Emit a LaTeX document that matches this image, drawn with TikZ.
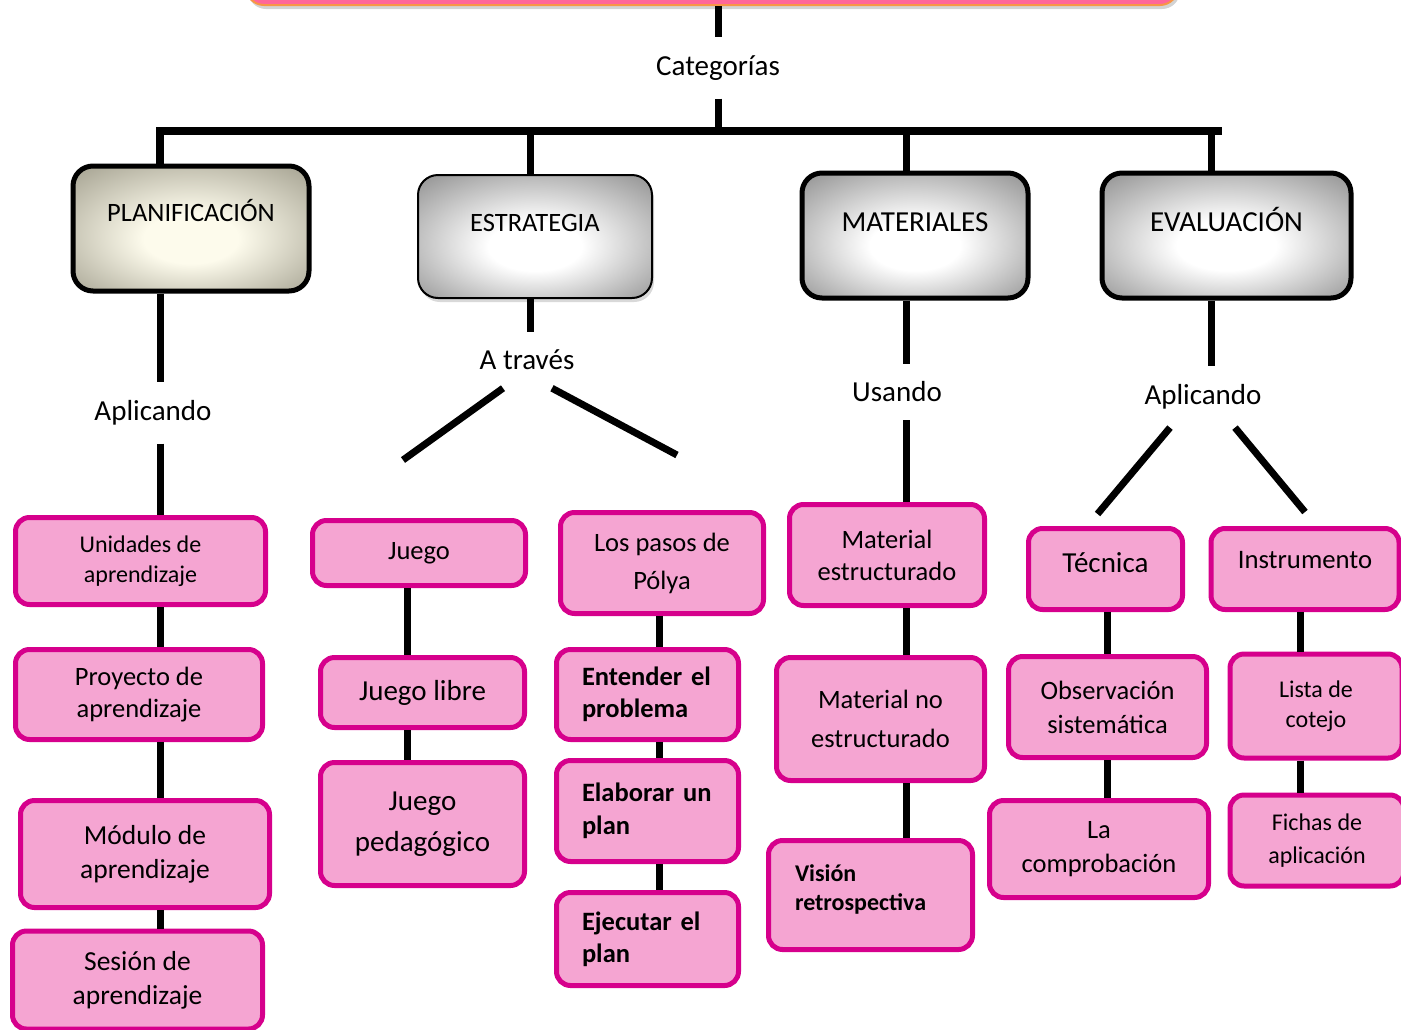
\documentclass[tikz,border=0pt]{standalone}
\usepackage{fontspec}
\setmainfont{Carlito}
\usetikzlibrary{shadows,positioning,calc}

\definecolor{rosa}{RGB}{245,165,210}
\definecolor{magentaborde}{RGB}{214,0,140}
\definecolor{fucsia}{RGB}{255,102,153}
\definecolor{naranja}{RGB}{247,150,70}
\definecolor{crema}{RGB}{253,251,236}
\definecolor{oliva}{RGB}{158,155,138}
\definecolor{grisborde}{RGB}{138,138,138}

\pgfdeclareradialshading{brillogris}{\pgfpoint{0bp}{-5bp}}{color(0bp)=(white); color(10bp)=(white); color(38bp)=(grisborde); color(50bp)=(grisborde)}
\pgfdeclareradialshading{brillocrema}{\pgfpoint{0bp}{-5bp}}{color(0bp)=(crema); color(10bp)=(crema); color(38bp)=(oliva); color(50bp)=(oliva)}

\newcommand{\tam}[2]{\fontsize{#1}{#2}\selectfont}

\begin{document}
\begin{tikzpicture}[x=1pt,y=-1pt,
   conector/.style={line width=7pt},
   cajatit/.style={draw=black,line width=5pt,rounded corners=20pt,shade,shading=brillogris,inner sep=0pt},
   cajarosa/.style={draw=magentaborde,fill=rosa,line width=5pt,rounded corners=14pt,align=center,inner sep=0pt},
   etiqueta/.style={inner sep=18pt,font=\tam{29}{34}}]

   \useasboundingbox (0,0) rectangle (1401,1029);

   % titulo y categorias
   \node[draw=naranja,line width=2pt,fill=fucsia,rounded corners=18pt,minimum width=932pt,minimum height=60pt,
         drop shadow={opacity=0.35,shadow xshift=2pt,shadow yshift=-4pt}] (titulo) at (712,-25) {};
   \node[etiqueta] (categ) at (718,68) {Categorías};

   \coordinate (barL) at (160,131);
   \coordinate (barR) at (1222,131);
   \coordinate (ejeP) at (160,0);
   \coordinate (ejeE) at (530,0);
   \coordinate (ejeJ) at (407,0);
   \coordinate (ejeY) at (659,0);
   \coordinate (ejeM) at (906,0);
   \coordinate (ejeV) at (1211,0);
   \coordinate (ejeT) at (1107,0);
   \coordinate (ejeI) at (1300,0);

   % categorias
   \node[cajatit,shading=brillocrema,minimum width=236pt,minimum height=125pt,font=\tam{26.5}{30},text height=17pt,text depth=31pt] (plan) at (191,228.5) {PLANIFICACIÓN};
   \node[cajatit,line width=2pt,minimum width=234pt,minimum height=123pt,font=\tam{26.5}{30},text height=17pt,text depth=28pt,
         drop shadow={opacity=0.3,shadow xshift=2pt,shadow yshift=-4pt}] (estr) at (535,236.5) {ESTRATEGIA};
   \node[cajatit,minimum width=226pt,minimum height=125pt,font=\tam{29}{34},text height=19pt,text depth=28pt] (mat) at (915,235.5) {MATERIALES};
   \node[cajatit,minimum width=249pt,minimum height=125pt,font=\tam{29}{34},text height=19pt,text depth=28pt] (eval) at (1226.5,235.5) {EVALUACIÓN};

   \node[etiqueta] (aplic1) at (153,413) {Aplicando};
   \node[etiqueta] (atraves) at (527,360) {A través};
   \node[etiqueta] (usando) at (897,392) {Usando};
   \node[etiqueta] (aplic2) at (1203,397) {Aplicando};

   % planificacion
   \node[cajarosa,minimum width=250pt,minimum height=87pt,font=\tam{24}{30}] (unid) at (140.5,561) {Unidades de\\aprendizaje};
   \node[cajarosa,minimum width=247pt,minimum height=90pt,font=\tam{26.5}{32}] (proy) at (139,694.5) {Proyecto de\\aprendizaje};
   \node[cajarosa,minimum width=249pt,minimum height=107pt,font=\tam{27.5}{34}] (modu) at (145,854) {Módulo de\\aprendizaje};
   \node[cajarosa,minimum width=250pt,minimum height=98pt,font=\tam{27.5}{34}] (sesi) at (137.5,980) {Sesión de\\aprendizaje};

   % estrategia
   \node[cajarosa,minimum width=213pt,minimum height=65pt,font=\tam{26.5}{32}] (juego) at (419,553) {Juego};
   \node[cajarosa,minimum width=204pt,minimum height=70pt,font=\tam{29}{34}] (jlib) at (422.5,692.5) {Juego libre};
   \node[cajarosa,minimum width=204pt,minimum height=123pt,font=\tam{29}{41}] (jped) at (422.5,824) {Juego\\pedagógico};
   \node[cajarosa,minimum width=203pt,minimum height=101pt,font=\tam{26.5}{38}] (polya) at (662,563) {Los pasos de\\Pólya};
   \node[cajarosa,minimum width=182pt,minimum height=90pt,font=\tam{26.5}{32}\bfseries,align=left,text width=131pt] (ent) at (647.5,694.5) {Entender el\\problema};
   \node[cajarosa,minimum width=182pt,minimum height=101pt,font=\tam{26.5}{33}\bfseries,align=left,text width=131pt] (ela) at (647.5,811) {Elaborar un\\plan};
   \node[cajarosa,minimum width=182pt,minimum height=93pt,font=\tam{26.5}{32}\bfseries,align=left,text width=131pt] (eje) at (647.5,939) {Ejecutar el\\plan};

   % materiales
   \node[cajarosa,minimum width=195pt,minimum height=101pt,font=\tam{26.5}{32}] (mest) at (887,555) {Material\\estructurado};
   \node[cajarosa,minimum width=208pt,minimum height=123pt,font=\tam{26.5}{39}] (mno) at (880.5,719) {Material no\\estructurado};
   \node[cajarosa,minimum width=204pt,minimum height=109pt,font=\tam{24}{29}\bfseries,align=left,text width=151pt] (vis) at (870.5,895) {Visión\\retrospectiva\\[-15pt]\mbox{}};

   % evaluacion
   \node[cajarosa,minimum width=154pt,minimum height=81pt,font=\tam{29}{34},text height=21pt,text depth=15pt] (tec) at (1105.5,569) {Técnica};
   \node[cajarosa,minimum width=198pt,minimum height=101pt,font=\tam{26.5}{34}] (obs) at (1107.5,707) {Observación\\sistemática};
   \node[cajarosa,minimum width=219pt,minimum height=97pt,font=\tam{26.5}{34}] (lacomp) at (1099,849) {La\\comprobación};
   \node[cajarosa,minimum width=188pt,minimum height=81pt,font=\tam{26.7}{32},text height=18pt,text depth=19pt] (instr) at (1305,569) {Instrumento};
   \node[cajarosa,minimum width=172pt,minimum height=104pt,font=\tam{24}{30}] (lista) at (1316,706) {Lista de\\cotejo};
   \node[cajarosa,minimum width=174pt,minimum height=91pt,font=\tam{24}{33}] (fichas) at (1317,840.5) {Fichas de\\aplicación};

   % conectores
   \draw[conector] (titulo.south -| categ) -- (categ.north);
   \draw[conector] (categ.south) -- (categ.south |- barL);
   \draw[conector,line width=8pt] (plan.north -| barL) |- (barR);
   \draw[conector] (barL -| ejeE) -- (estr.north -| ejeE);
   \draw[conector] (barL -| ejeM) -- (mat.north -| ejeM);
   \draw[conector] (barL -| ejeV) -- (eval.north -| ejeV);
   \draw[conector] (estr.south -| ejeE) -- (atraves.north -| ejeE);
   \draw[conector] (eval.south -| ejeV) -- (aplic2.north -| ejeV);

   \foreach \a/\b in {plan/aplic1,aplic1/unid,unid/proy,proy/modu,modu/sesi}
      \draw[conector] (\a.south -| ejeP) -- (\b.north -| ejeP);
   \foreach \a/\b in {juego/jlib,jlib/jped}
      \draw[conector] (\a.south -| ejeJ) -- (\b.north -| ejeJ);
   \foreach \a/\b in {polya/ent,ent/ela,ela/eje}
      \draw[conector] (\a.south -| ejeY) -- (\b.north -| ejeY);
   \foreach \a/\b in {mat/usando,usando/mest,mest/mno,mno/vis}
      \draw[conector] (\a.south -| ejeM) -- (\b.north -| ejeM);
   \foreach \a/\b in {tec/obs,obs/lacomp}
      \draw[conector] (\a.south -| ejeT) -- (\b.north -| ejeT);
   \foreach \a/\b in {instr/lista,lista/fichas}
      \draw[conector] (\a.south -| ejeI) -- (\b.north -| ejeI);

   \coordinate (finJ) at (403,460);
   \coordinate (finY) at (677,455);
   \draw[conector] ([xshift=-24pt]atraves.south) -- (finJ);
   \draw[conector] ([xshift=25pt]atraves.south) -- (finY);
   \draw[conector] ([xshift=-33pt]aplic2.south) -- ([xshift=-8pt,yshift=12pt]tec.north);
   \draw[conector] ([xshift=32pt]aplic2.south) -- ([yshift=14pt]instr.north);

\end{tikzpicture}
\end{document}
